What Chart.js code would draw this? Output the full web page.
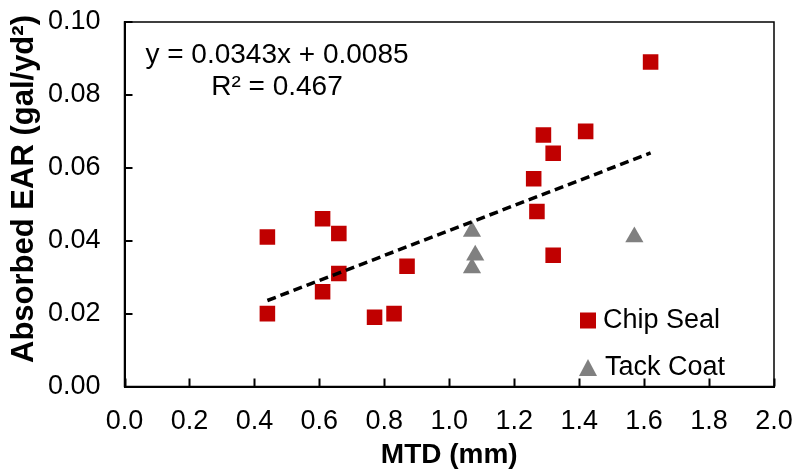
<!DOCTYPE html>
<html>
<head>
<meta charset="utf-8">
<script src="https://cdn.jsdelivr.net/npm/chart.js@4.4.1/dist/chart.umd.min.js"></script>
<style>
  body { margin: 0; background: #fff; }
  canvas { display: block; }
</style>
</head>
<body>
<canvas id="earChart" width="795" height="469"></canvas>
<script>
// chip seal sections: texture depth vs. absorbed emulsion
const chipSealMtd = [0.44, 0.44, 0.61, 0.66, 0.66, 0.61, 0.77, 0.83, 0.87, 1.27, 1.32, 1.62, 1.29, 1.32, 1.42, 1.26];
const chipSealEar = [0.041, 0.020, 0.046, 0.042, 0.031, 0.026, 0.019, 0.020, 0.033, 0.048, 0.036, 0.089, 0.069, 0.064, 0.070, 0.057];

// tack coat sections
const tackCoatMtd = [1.07, 1.08, 1.07, 1.57];
const tackCoatEar = [0.0425, 0.036, 0.0325, 0.041];

// linear fit on the chip seal points
const trendSlope = 0.0343;
const trendIntercept = 0.0085;
const trendR2 = 0.467;

const xTicks = [0, 0.2, 0.4, 0.6, 0.8, 1.0, 1.2, 1.4, 1.6, 1.8, 2.0];
const yTicks = [0, 0.02, 0.04, 0.06, 0.08, 0.10];

const FONT = "'Liberation Sans', Arial, sans-serif";
const RED = '#C00000';
const GREY = '#808080';

function toPoints(xs, ys) {
  return xs.map((x, i) => ({ x: x, y: ys[i] }));
}

const trendX = [Math.min(...chipSealMtd), Math.max(...chipSealMtd)];
const trendData = trendX.map(x => ({ x: x, y: trendSlope * x + trendIntercept }));

// box around the plot, inward tick marks, equation, legend, y title
const extras = {
  id: 'extras',
  afterDraw(chart) {
    const ctx = chart.ctx;
    const a = chart.chartArea;
    const xs = chart.scales.x, ys = chart.scales.y;
    ctx.save();
    ctx.strokeStyle = '#000';
    ctx.lineWidth = 1.5;
    ctx.strokeRect(a.left, a.top, a.right - a.left, a.bottom - a.top);
    ctx.lineWidth = 2;
    ctx.beginPath();
    xTicks.forEach(v => {
      const px = Math.round(xs.getPixelForValue(v)) + 0.5;
      ctx.moveTo(px, a.bottom);
      ctx.lineTo(px, a.bottom - 8);
    });
    yTicks.forEach(v => {
      const py = Math.round(ys.getPixelForValue(v));
      ctx.moveTo(a.left, py);
      ctx.lineTo(a.left + 8, py);
    });
    ctx.stroke();

    // trendline label
    ctx.fillStyle = '#000';
    ctx.font = '28px ' + FONT;
    ctx.textAlign = 'center';
    ctx.textBaseline = 'alphabetic';
    ctx.fillText('y = ' + trendSlope.toFixed(4) + 'x + ' + trendIntercept.toFixed(4), 277, 63);
    ctx.fillText('R\u00b2 = ' + trendR2.toFixed(3), 277, 95);

    // legend
    ctx.font = '27px ' + FONT;
    ctx.textAlign = 'left';
    ctx.fillStyle = RED;
    ctx.fillRect(a.right - 194, 312.5, 16, 16);
    ctx.fillStyle = GREY;
    ctx.beginPath();
    ctx.moveTo(a.right - 186, 359);
    ctx.lineTo(a.right - 177, 376);
    ctx.lineTo(a.right - 195, 376);
    ctx.closePath();
    ctx.fill();
    ctx.fillStyle = '#000';
    ctx.fillText('Chip Seal', a.right - 171, 328);
    ctx.fillText('Tack Coat', a.right - 169, 375);

    // y axis title
    ctx.translate(24, 189);
    ctx.rotate(-Math.PI / 2);
    ctx.font = 'bold 31px ' + FONT;
    ctx.textAlign = 'center';
    ctx.textBaseline = 'middle';
    ctx.fillText('Absorbed EAR (gal/yd\u00b2)', 0, 0);
    ctx.restore();
  }
};

new Chart(document.getElementById('earChart'), {
  type: 'scatter',
  data: {
    datasets: [{
      type: 'line',
      label: 'Linear (Chip Seal)',
      data: trendData,
      borderColor: '#000',
      borderWidth: 3.5,
      borderDash: [9, 5],
      pointRadius: 0,
      fill: false,
      order: 0
    }, {
      label: 'Chip Seal',
      data: toPoints(chipSealMtd, chipSealEar),
      pointStyle: 'rect',
      pointRadius: 11,
      backgroundColor: RED,
      borderColor: RED,
      borderWidth: 0,
      order: 1
    }, {
      label: 'Tack Coat',
      data: toPoints(tackCoatMtd, tackCoatEar),
      pointStyle: 'triangle',
      pointRadius: 10.5,
      backgroundColor: GREY,
      borderColor: GREY,
      borderWidth: 0,
      order: 2
    }]
  },
  options: {
    responsive: false,
    animation: false,
    layout: { padding: { left: 0, top: 22, right: 21, bottom: 0 } },
    plugins: {
      legend: { display: false },
      tooltip: { enabled: false }
    },
    scales: {
      x: {
        type: 'linear',
        min: 0,
        max: 2,
        afterFit: s => {
          s.height = 82.5;
          s.paddingLeft = 0;
          s.paddingRight = 0;
        },
        afterBuildTicks: s => { s.ticks = xTicks.map(v => ({ value: v })); },
        ticks: {
          padding: 19,
          color: '#000',
          font: { family: FONT, size: 27 },
          callback: v => v.toFixed(1)
        },
        grid: { drawOnChartArea: false, drawTicks: false },
        border: { display: true, color: '#000', width: 2 },
        title: {
          display: true,
          text: 'MTD (mm)',
          color: '#000',
          font: { family: FONT, size: 28, weight: 'bold', lineHeight: 1 },
          padding: { top: 0, bottom: 0 }
        }
      },
      y: {
        min: 0,
        max: 0.1,
        afterFit: s => {
          s.width = 124.5;
          s.paddingTop = 0;
          s.paddingBottom = 0;
        },
        afterBuildTicks: s => { s.ticks = yTicks.map(v => ({ value: v })); },
        ticks: {
          padding: 24,
          color: '#000',
          font: { family: FONT, size: 27 },
          callback: v => v.toFixed(2)
        },
        grid: { drawOnChartArea: false, drawTicks: false },
        border: { display: true, color: '#000', width: 2 }
      }
    }
  },
  plugins: [extras]
});
</script>
</body>
</html>
